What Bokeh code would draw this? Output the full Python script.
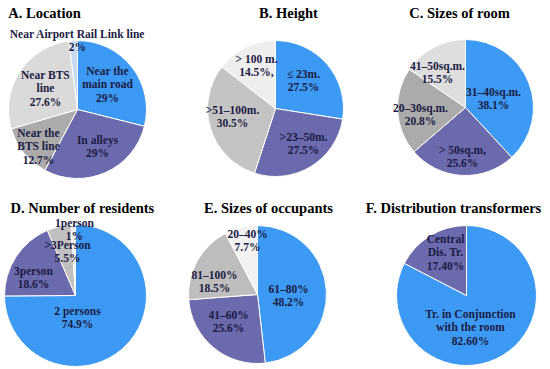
import numpy as np
from bokeh.plotting import figure
from bokeh.models import Range1d, ColumnDataSource
from bokeh.embed import file_html
from bokeh.resources import INLINE
from bokeh.core.properties import value

# ---------------- data ----------------
titles = ["A. Location", "B. Height", "C. Sizes of room",
          "D. Number of residents", "E. Sizes of occupants",
          "F. Distribution transformers"]

location_cats = ["Near the\nmain road", "In alleys", "Near the\nBTS line", "Near BTS\nline", "Near Airport Rail Link line"]
location_vals = [29, 29, 12.7, 27.6, 2]
location_pct = ["29%", "29%", "12.7%", "27.6%", "2%"]

height_cats = ["\u2264 23m.", ">23\u201350m.", ">51\u2013100m.", "> 100 m."]
height_vals = [27.5, 27.5, 30.5, 14.5]
height_pct = ["27.5%", "27.5%", "30.5%", "14.5%,"]

room_cats = ["31\u201340sq.m.", "> 50sq.m,", "20\u201330sq.m.", "41\u201350sq.m."]
room_vals = [38.1, 25.6, 20.8, 15.5]
room_pct = ["38.1%", "25.6%", "20.8%", "15.5%"]

resident_cats = ["2 persons", "3person", ">3Person", "1person"]
resident_vals = [74.9, 18.6, 5.5, 1]
resident_pct = ["74.9%", "18.6%", "5.5%", "1%"]

occupant_cats = ["61\u201380%", "41\u201360%", "81\u2013100%", "20\u201340%"]
occupant_vals = [48.2, 25.6, 18.5, 7.7]
occupant_pct = ["48.2%", "25.6%", "18.5%", "7.7%"]

transformer_cats = ["Tr. in Conjunction\nwith the room", "Central\nDis. Tr."]
transformer_vals = [82.6, 17.4]
transformer_pct = ["82.60%", "17.40%"]

charts = [
    (location_cats, location_vals, location_pct),
    (height_cats, height_vals, height_pct),
    (room_cats, room_vals, room_pct),
    (resident_cats, resident_vals, resident_pct),
    (occupant_cats, occupant_vals, occupant_pct),
    (transformer_cats, transformer_vals, transformer_pct),
]

# ---------------- layout / style ----------------
W, H = 550, 369
BLUE, PURPLE, GRAY = "#3C9AF4", "#6A6AAD", "#ABABAB"
palettes = [
    [BLUE, PURPLE, GRAY, "#DADADA", "#C6DBF2"],
    [BLUE, PURPLE, "#C4C4C4", "#EEEEEE"],
    [BLUE, PURPLE, GRAY, "#DEDEDE"],
    [BLUE, PURPLE, "#C0C0C0", "#ECECEC"],
    [BLUE, PURPLE, "#BDBDBD", "#F2F2F2"],
    [BLUE, PURPLE],
]
# pie centre (x, y in page pixels) and radius
pies = [(77, 109, 69), (275, 108, 68), (465, 107, 68),
        (75, 295, 71), (257, 294, 69), (466, 295, 70)]
title_pos = [(44, 12), (288, 12), (459, 12), (82, 207), (268, 207), (453, 207)]
label_pos = [
    [(107, 84), (97, 146), (38, 146), (45, 88), (77, 40)],
    [(303, 80), (303, 143), (232, 116), (256, 65)],
    [(493, 98), (462, 156), (420, 114), (437, 72)],
    [(77, 317), (33, 277), (67, 251), (74, 229)],
    [(288, 295), (228, 321), (214, 281), (247, 240)],
    [(470, 327), (445, 252)],
]
LABEL_COLOR = "#1C1C44"

p = figure(width=W, height=H, output_backend="svg", toolbar_location=None,
           x_range=Range1d(0, W), y_range=Range1d(0, H),
           min_border=0, outline_line_color=None)
p.axis.visible = False
p.grid.visible = False
p.background_fill_color = "white"

def fy(y):
    return H - y

for i, (cats, vals, pcts) in enumerate(charts):
    cx, cy, r = pies[i]
    v = np.asarray(vals, dtype=float)
    frac = v / v.sum()
    c1 = np.cumsum(frac)
    c0 = c1 - frac
    src = ColumnDataSource(dict(
        x=[cx] * len(v), y=[fy(cy)] * len(v),
        start=np.pi / 2 - 2 * np.pi * c0,
        end=np.pi / 2 - 2 * np.pi * c1,
        color=palettes[i][:len(v)],
    ))
    p.wedge(x="x", y="y", radius=r, start_angle="start", end_angle="end",
            direction="clock", fill_color="color", line_color="white",
            line_width=1, source=src)
    lsrc = ColumnDataSource(dict(
        x=[pt[0] for pt in label_pos[i]],
        y=[fy(pt[1]) for pt in label_pos[i]],
        text=[c + "\n" + t for c, t in zip(cats, pcts)],
    ))
    p.text(x="x", y="y", text="text", source=lsrc, text_align="center",
           text_baseline="middle", text_font=value("Liberation Serif"),
           text_font_style="bold", text_font_size="11.5px",
           text_color=LABEL_COLOR, text_line_height=1.15)

tsrc = ColumnDataSource(dict(x=[t[0] for t in title_pos],
                             y=[fy(t[1]) for t in title_pos], text=titles))
p.text(x="x", y="y", text="text", source=tsrc, text_align="center",
       text_baseline="middle", text_font=value("Liberation Serif"),
       text_font_style="bold", text_font_size="14.5px", text_color="black")

open("out.html", "w").write(file_html(p, INLINE))
